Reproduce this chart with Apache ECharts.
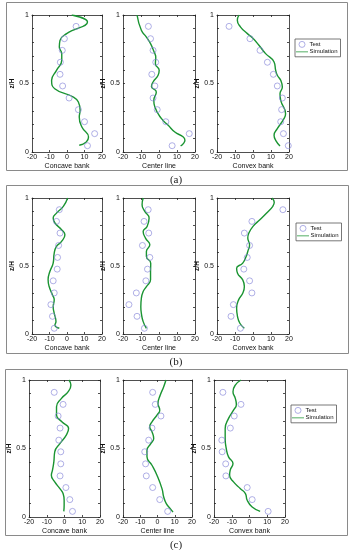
<!DOCTYPE html>
<html><head><meta charset="utf-8">
<script src="https://cdn.jsdelivr.net/npm/echarts@6/dist/echarts.min.js"></script>
<style>html,body{margin:0;padding:0;background:#fff}#c{width:351px;height:550px}</style>
</head><body><div id="c"></div>
<script>
// ---------- DATA ----------
const subplotNames = ['Concave bank', 'Center line', 'Convex bank'];
const panelLabels = ['(a)', '(b)', '(c)'];
const xTicks = [-20, -10, 0, 10, 20];
const yTickLabels = [0, 0.5, 1];

// Test points (z/H levels per panel)
const testZ_a = [0.917, 0.827, 0.742, 0.655, 0.567, 0.482, 0.394, 0.309, 0.221, 0.134, 0.046];
const testZ_b = [0.914, 0.828, 0.742, 0.651, 0.563, 0.477, 0.391, 0.302, 0.216, 0.130, 0.042];
const testZ_c = [0.910, 0.822, 0.737, 0.649, 0.561, 0.476, 0.388, 0.300, 0.215, 0.127, 0.041];

const testX_a_concave = [5.2, -1.5, -2.7, -3.8, -4.0, -2.5, 1.2, 6.5, 10.0, 15.8, 11.7];
const testX_a_center  = [-5.9, -4.7, -3.3, -1.8, -4.0, -2.3, -3.3, -1.0, 3.8, 16.8, 7.3];
const testX_a_convex  = [-13.3, -1.7, 3.9, 8.0, 11.3, 13.5, 16.3, 15.9, 15.4, 16.9, 19.6];
const testX_b_concave = [-4.4, -6.0, -4.0, -4.8, -5.4, -5.6, -7.9, -7.3, -9.2, -8.3, -7.3];
const testX_b_center  = [-6.0, -8.3, -5.7, -9.2, -5.1, -6.4, -7.3, -12.6, -16.7, -12.2, -8.1];
const testX_b_convex  = [16.6, -0.6, -4.8, -1.9, -3.2, -5.1, -1.9, -0.6, -10.9, -12.2, -7.0];
const testX_c_concave = [-5.8, -0.8, -3.6, -2.5, -3.2, -2.1, -2.1, -2.5, 0.8, 3.0, 4.5];
const testX_c_center  = [-2.8, -1.3, 2.0, -3.2, -5.1, -7.4, -6.9, -6.5, -2.8, 1.3, 5.9];
const testX_c_convex  = [-15.0, -4.8, -8.6, -10.8, -15.6, -15.4, -13.4, -13.3, -1.3, 1.5, 10.5];

// Simulation curves: z/H and x
const simZ_a_concave = [1.0, 0.949, 0.864, 0.815, 0.766, 0.718, 0.669, 0.596, 0.523, 0.462, 0.401, 0.365, 0.304, 0.255, 0.182, 0.109, 0.073, 0.049];
const simX_a_concave = [2.7, 11.7, -0.2, -4.0, -4.4, -3.0, -3.0, -6.0, -8.8, -7.0, 3.7, 6.5, 7.5, 7.0, 8.5, 12.3, 11.0, 7.0];
const simZ_a_center = [1.0, 0.888, 0.839, 0.791, 0.730, 0.693, 0.645, 0.596, 0.560, 0.511, 0.479, 0.438, 0.377, 0.328, 0.243, 0.195, 0.146, 0.109, 0.085, 0.061, 0.044];
const simX_a_center = [-12.2, -9.8, -7.0, -4.7, -2.7, -1.8, -2.0, 0.1, -0.5, -3.3, -4.2, -1.5, -2.9, -2.3, 1.4, 5.1, 8.8, 13.5, 14.4, 13.5, 12.0];
const simZ_a_convex = [1.0, 0.961, 0.912, 0.864, 0.827, 0.779, 0.718, 0.657, 0.596, 0.560, 0.523, 0.474, 0.426, 0.377, 0.280, 0.243, 0.170, 0.122, 0.085, 0.044];
const simX_a_convex = [-7.8, -8.7, -6.9, -3.1, 0.2, 3.3, 7.0, 11.7, 12.6, 13.5, 15.4, 16.3, 15.0, 15.4, 18.1, 17.2, 13.5, 11.7, 12.6, 15.0];

const simZ_b_concave = [1.0, 0.939, 0.889, 0.853, 0.816, 0.767, 0.730, 0.681, 0.644, 0.595, 0.521, 0.459, 0.398, 0.349, 0.287, 0.251, 0.201, 0.152, 0.091, 0.066, 0.042];
const simX_b_concave = [0.4, -2.1, -6.0, -7.9, -6.9, -3.1, -1.2, -3.1, -6.0, -7.3, -7.9, -9.8, -10.8, -10.2, -8.3, -7.3, -7.9, -7.3, -6.3, -6.9, -4.4];
const simZ_b_center = [1.0, 0.951, 0.902, 0.853, 0.791, 0.754, 0.705, 0.656, 0.607, 0.570, 0.521, 0.447, 0.398, 0.349, 0.312, 0.263, 0.201, 0.152, 0.091, 0.042];
const simX_b_center = [-8.8, -9.4, -7.9, -5.5, -6.6, -8.8, -7.5, -5.1, -7.0, -7.0, -4.6, -4.7, -4.7, -7.0, -8.8, -9.8, -10.1, -9.8, -8.8, -7.0];
const simZ_b_convex = [1.0, 0.968, 0.939, 0.889, 0.840, 0.791, 0.742, 0.705, 0.656, 0.607, 0.570, 0.521, 0.484, 0.447, 0.398, 0.349, 0.300, 0.251, 0.189, 0.128, 0.079, 0.042];
const simX_b_convex = [10.5, 11.8, 11.0, 7.6, 3.8, 0.0, -2.3, -2.9, -1.9, -2.9, -3.8, -5.7, -9.1, -8.6, -5.7, -4.8, -5.7, -8.0, -9.1, -8.6, -7.3, -4.8];

const simZ_c_concave = [1.0, 0.963, 0.915, 0.866, 0.805, 0.744, 0.695, 0.646, 0.598, 0.537, 0.476, 0.402, 0.341, 0.305, 0.256, 0.207, 0.171, 0.122, 0.085, 0.041];
const simX_c_concave = [2.5, 3.6, 2.1, -1.7, -4.5, -4.5, -1.5, 2.3, 1.0, -2.5, -5.5, -6.0, -6.8, -7.4, -5.5, -2.6, -0.8, -0.2, -0.2, -0.4];
const simZ_c_center = [1.0, 0.951, 0.890, 0.829, 0.780, 0.744, 0.695, 0.659, 0.622, 0.573, 0.537, 0.488, 0.439, 0.378, 0.305, 0.207, 0.146, 0.098, 0.061, 0.037];
const simX_c_center = [4.9, 3.6, 1.6, 0.3, 1.3, -0.3, -3.2, -4.5, -3.2, -2.2, -3.8, -6.1, -6.1, -3.2, -0.3, 2.6, 3.6, 5.1, 7.4, 9.0];
const simZ_c_convex = [1.0, 0.963, 0.915, 0.866, 0.822, 0.780, 0.720, 0.646, 0.573, 0.500, 0.439, 0.390, 0.341, 0.305, 0.256, 0.207, 0.171, 0.122, 0.073, 0.041];
const simX_c_convex = [-4.8, -8.0, -9.3, -8.0, -7.4, -9.0, -11.8, -13.7, -13.7, -13.1, -11.8, -9.3, -10.9, -11.2, -9.0, -5.1, -2.3, -1.3, 1.5, 6.0];

// ---------- LAYOUT ----------
const panels = [
  { top: 15, height: 137, lefts: [32, 123, 217], widths: [70, 72, 72], frame: [6, 2, 341, 168], labelY: 180, legend: [295, 39],
    testZ: testZ_a, testX: [testX_a_concave, testX_a_center, testX_a_convex],
    simZ: [simZ_a_concave, simZ_a_center, simZ_a_convex], simX: [simX_a_concave, simX_a_center, simX_a_convex] },
  { top: 198, height: 136, lefts: [32, 123, 217], widths: [70, 72, 72], frame: [6, 185, 342, 168], labelY: 362, legend: [296, 223],
    testZ: testZ_b, testX: [testX_b_concave, testX_b_center, testX_b_convex],
    simZ: [simZ_b_concave, simZ_b_center, simZ_b_convex], simX: [simX_b_concave, simX_b_center, simX_b_convex] },
  { top: 380, height: 137, lefts: [29, 123, 214], widths: [71, 69, 71], frame: [5, 369, 342, 166], labelY: 545, legend: [291, 405],
    testZ: testZ_c, testX: [testX_c_concave, testX_c_center, testX_c_convex],
    simZ: [simZ_c_concave, simZ_c_center, simZ_c_convex], simX: [simX_c_concave, simX_c_center, simX_c_convex] }
];

const FONT = 'Liberation Sans';
const AX = '#222';
const TEST_C = '#8282d8';
const SIM_C = '#1a9432';
const LINE_ICON = 'path://M0,0L0.01,0M0,4.4L20,4.4L20,5.6L0,5.6ZM0,10L0.01,10';
const grids = [], xAxes = [], yAxes = [], series = [], legends = [], graphics = [];

panels.forEach((p, pi) => {
  graphics.push({ type: 'rect', shape: { x: p.frame[0] + 0.5, y: p.frame[1] + 0.5, width: p.frame[2], height: p.frame[3] },
    style: { fill: 'none', stroke: '#8a8a8a', lineWidth: 1 }, silent: true });
  graphics.push({ type: 'text', x: 176, y: p.labelY, style: { text: panelLabels[pi], font: '11px "Liberation Serif"', fill: '#222', textAlign: 'center', textVerticalAlign: 'middle' } });
  legends.push({
    left: p.legend[0], top: p.legend[1], orient: 'vertical',
    data: [
      { name: 'Test', icon: 'circle', itemStyle: { color: '#fff', borderColor: TEST_C, borderWidth: 0.8 } },
      { name: 'Simulation', icon: LINE_ICON, itemStyle: { color: SIM_C } }
    ],
    backgroundColor: '#fff', borderColor: '#555', borderWidth: 0.8, padding: [2, 3, 2, 1],
    itemGap: 1, itemWidth: 13, itemHeight: 6,
    textStyle: { fontSize: 6, fontFamily: FONT, color: '#111', padding: [0, 0, 0, -4] }
  });
  for (let k = 0; k < 3; k++) {
    const gi = grids.length;
    grids.push({ left: p.lefts[k], top: p.top, width: p.widths[k], height: p.height, show: false });
    const baseX = { gridIndex: gi, type: 'value', min: -20, max: 20, interval: 10,
      axisLine: { onZero: false, lineStyle: { color: AX, width: 0.8 } },
      axisTick: { inside: true, length: 2, lineStyle: { color: AX, width: 0.8 } },
      splitLine: { show: false } };
    xAxes.push(Object.assign({}, baseX, { position: 'bottom', name: subplotNames[k], nameLocation: 'middle', nameGap: 11,
      nameTextStyle: { fontSize: 7, fontFamily: FONT, color: '#111' },
      axisLabel: { fontSize: 7, fontFamily: FONT, color: '#111', margin: 2,
        formatter: v => xTicks.includes(v) ? String(v) : '' } }));
    xAxes.push(Object.assign({}, baseX, { position: 'top', axisLabel: { show: false } }));
    const baseY = { gridIndex: gi, type: 'value', min: 0, max: 1, interval: 0.1,
      axisLine: { onZero: false, lineStyle: { color: AX, width: 0.8 } },
      axisTick: { inside: true, length: 2, lineStyle: { color: AX, width: 0.8 } },
      splitLine: { show: false } };
    yAxes.push(Object.assign({}, baseY, { position: 'left', name: 'z/H', nameLocation: 'middle', nameGap: 10, nameRotate: 90,
      nameTextStyle: { fontSize: 6.5, fontFamily: FONT, color: '#111', fontWeight: 'bold' },
      axisLabel: { fontSize: 7, fontFamily: FONT, color: '#111', margin: 3,
        formatter: v => { const r = Math.round(v * 10) / 10; return yTickLabels.includes(r) ? String(r) : ''; } } }));
    yAxes.push(Object.assign({}, baseY, { position: 'right', axisLabel: { show: false } }));
    const xi = gi * 2, yi = gi * 2;
    series.push({ name: 'Test', type: 'scatter', xAxisIndex: xi, yAxisIndex: yi, symbol: 'circle', symbolSize: 6,
      itemStyle: { color: 'rgba(255,255,255,0)', borderColor: TEST_C, borderWidth: 0.8 },
      data: p.testX[k].map((x, i) => [x, p.testZ[i]]), z: 3 });
    series.push({ name: 'Simulation', type: 'line', xAxisIndex: xi, yAxisIndex: yi, symbol: 'none', smooth: 0.5,
      lineStyle: { color: SIM_C, width: 1.4 }, itemStyle: { color: SIM_C },
      data: p.simX[k].map((x, i) => [x, p.simZ[k][i]]), z: 2 });
  }
});

const chart = echarts.init(document.getElementById('c'), null, { renderer: 'canvas' });
chart.setOption({
  animation: false, backgroundColor: '#fff',
  grid: grids, xAxis: xAxes, yAxis: yAxes, series: series, legend: legends, graphic: graphics
});
</script></body></html>
